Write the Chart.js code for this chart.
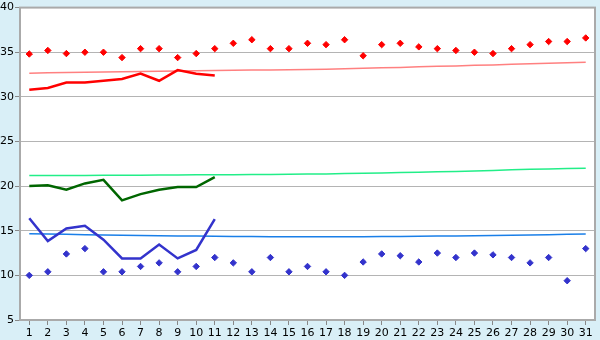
<!DOCTYPE html>
<html>
<head>
<meta charset="utf-8">
<script src="https://cdn.jsdelivr.net/npm/chart.js@4/dist/chart.umd.min.js"></script>
<style>
  html, body { margin: 0; padding: 0; background: #d9eff7; }
  #wrap { width: 600px; height: 340px; }
</style>
</head>
<body>
<div id="wrap"><canvas id="chart" width="600" height="340"></canvas></div>
<script>
// days of the month
const days = ["1","2","3","4","5","6","7","8","9","10","11","12","13","14","15","16",
  "17","18","19","20","21","22","23","24","25","26","27","28","29","30","31"];

// red diamonds (upper markers)
const highMarks = [34.8,35.2,34.85,35.0,35.0,34.4,35.4,35.4,34.4,34.85,35.4,36.0,36.4,35.4,35.4,36.0,
  35.85,36.4,34.6,35.85,36.0,35.6,35.4,35.2,35.0,34.85,35.4,35.85,36.2,36.2,36.6];

// blue diamonds (lower markers)
const lowMarks = [10.0,10.4,12.4,13.0,10.4,10.4,11.0,11.4,10.4,11.0,12.0,11.4,10.4,12.0,10.4,11.0,
  10.4,10.0,11.5,12.4,12.2,11.5,12.5,12.0,12.5,12.3,12.0,11.4,12.0,9.4,13.0];

// thick lines, first 11 days
const highLine = [30.8,31.0,31.6,31.6,31.8,32.0,32.6,31.8,33.0,32.6,32.4];
const midLine = [20.0,20.1,19.6,20.3,20.7,18.4,19.1,19.6,19.9,19.9,21.0];
const lowLine = [16.4,13.85,15.25,15.55,14.0,11.9,11.9,13.45,11.9,12.85,16.3];

// thin trend lines
const highTrend = [32.65,32.7,32.74,32.77,32.79,32.81,32.84,32.87,32.9,32.93,32.96,32.98,33.0,33.02,33.04,33.06,
  33.1,33.15,33.2,33.25,33.3,33.36,33.42,33.47,33.53,33.58,33.64,33.7,33.76,33.83,33.89];
const midTrend = [21.18,21.19,21.2,21.2,21.21,21.22,21.23,21.24,21.25,21.26,21.27,21.28,21.29,21.3,21.32,21.35,
  21.37,21.4,21.44,21.48,21.52,21.56,21.6,21.65,21.7,21.76,21.82,21.88,21.93,21.97,22.0];
const lowTrend = [14.67,14.63,14.6,14.56,14.53,14.5,14.47,14.44,14.42,14.4,14.38,14.36,14.35,14.34,14.33,14.33,
  14.33,14.33,14.34,14.35,14.36,14.38,14.4,14.42,14.44,14.47,14.5,14.53,14.56,14.6,14.64];

const yTicks = [5,10,15,20,25,30,35,40];

const frame = {
  id: "frame",
  beforeDraw(chart) {
    const c = chart.ctx, a = chart.chartArea;
    c.save();
    c.fillStyle = "#d9eff7";
    c.fillRect(0, 0, chart.width, chart.height);
    c.fillStyle = "#ffffff";
    c.fillRect(a.left, a.top, a.right - a.left, a.bottom - a.top);
    c.restore();
  },
  afterDraw(chart) {
    const c = chart.ctx, a = chart.chartArea;
    c.save();
    c.strokeStyle = "#aaaaaa";
    c.lineWidth = 2;
    c.strokeRect(a.left, a.top, a.right - a.left, a.bottom - a.top);
    c.restore();
  }
};

function line(data, color, width, order) {
  return { data: data, borderColor: color, borderWidth: width, pointRadius: 0,
    tension: 0, fill: false, order: order };
}
function marks(data, color) {
  return { data: data, showLine: false, pointStyle: "rectRot", pointRadius: 3.2,
    pointBorderWidth: 1, pointBackgroundColor: color, pointBorderColor: color,
    borderColor: color, order: 0 };
}

Chart.defaults.font.family = "DejaVu Sans";
Chart.defaults.font.size = 11;
Chart.defaults.color = "#000";

new Chart(document.getElementById("chart"), {
  type: "line",
  data: {
    labels: days,
    datasets: [
      line(highTrend, "#ff8080", 1.5, 3),
      line(midTrend, "#22ee88", 1.5, 3),
      line(lowTrend, "#1a7fe8", 1.5, 3),
      line(highLine, "#ff0000", 2.5, 1),
      line(midLine, "#006600", 2.5, 1),
      line(lowLine, "#3333cc", 2.5, 1),
      marks(highMarks, "#ff0000"),
      marks(lowMarks, "#3333cc")
    ]
  },
  options: {
    responsive: false,
    animation: false,
    layout: { padding: { top: 5, right: 5, left: 0, bottom: 0 } },
    plugins: { legend: { display: false }, tooltip: { enabled: false } },
    scales: {
      x: {
        offset: true,
        afterFit: s => { s.height = 20; },
        grid: { drawOnChartArea: false, tickLength: 5, color: "#888" },
        border: { color: "#aaaaaa", width: 2 },
        ticks: { autoSkip: false, maxRotation: 0, padding: 2 }
      },
      y: {
        min: 5,
        max: 40,
        afterFit: s => { s.width = 20; },
        afterBuildTicks: s => { s.ticks = yTicks.map(v => ({ value: v })); },
        grid: { color: "#b4b4b4", tickLength: 5, tickColor: "#888" },
        border: { color: "#aaaaaa", width: 2 },
        ticks: { padding: 1 }
      }
    }
  },
  plugins: [frame]
});
</script>
</body>
</html>
